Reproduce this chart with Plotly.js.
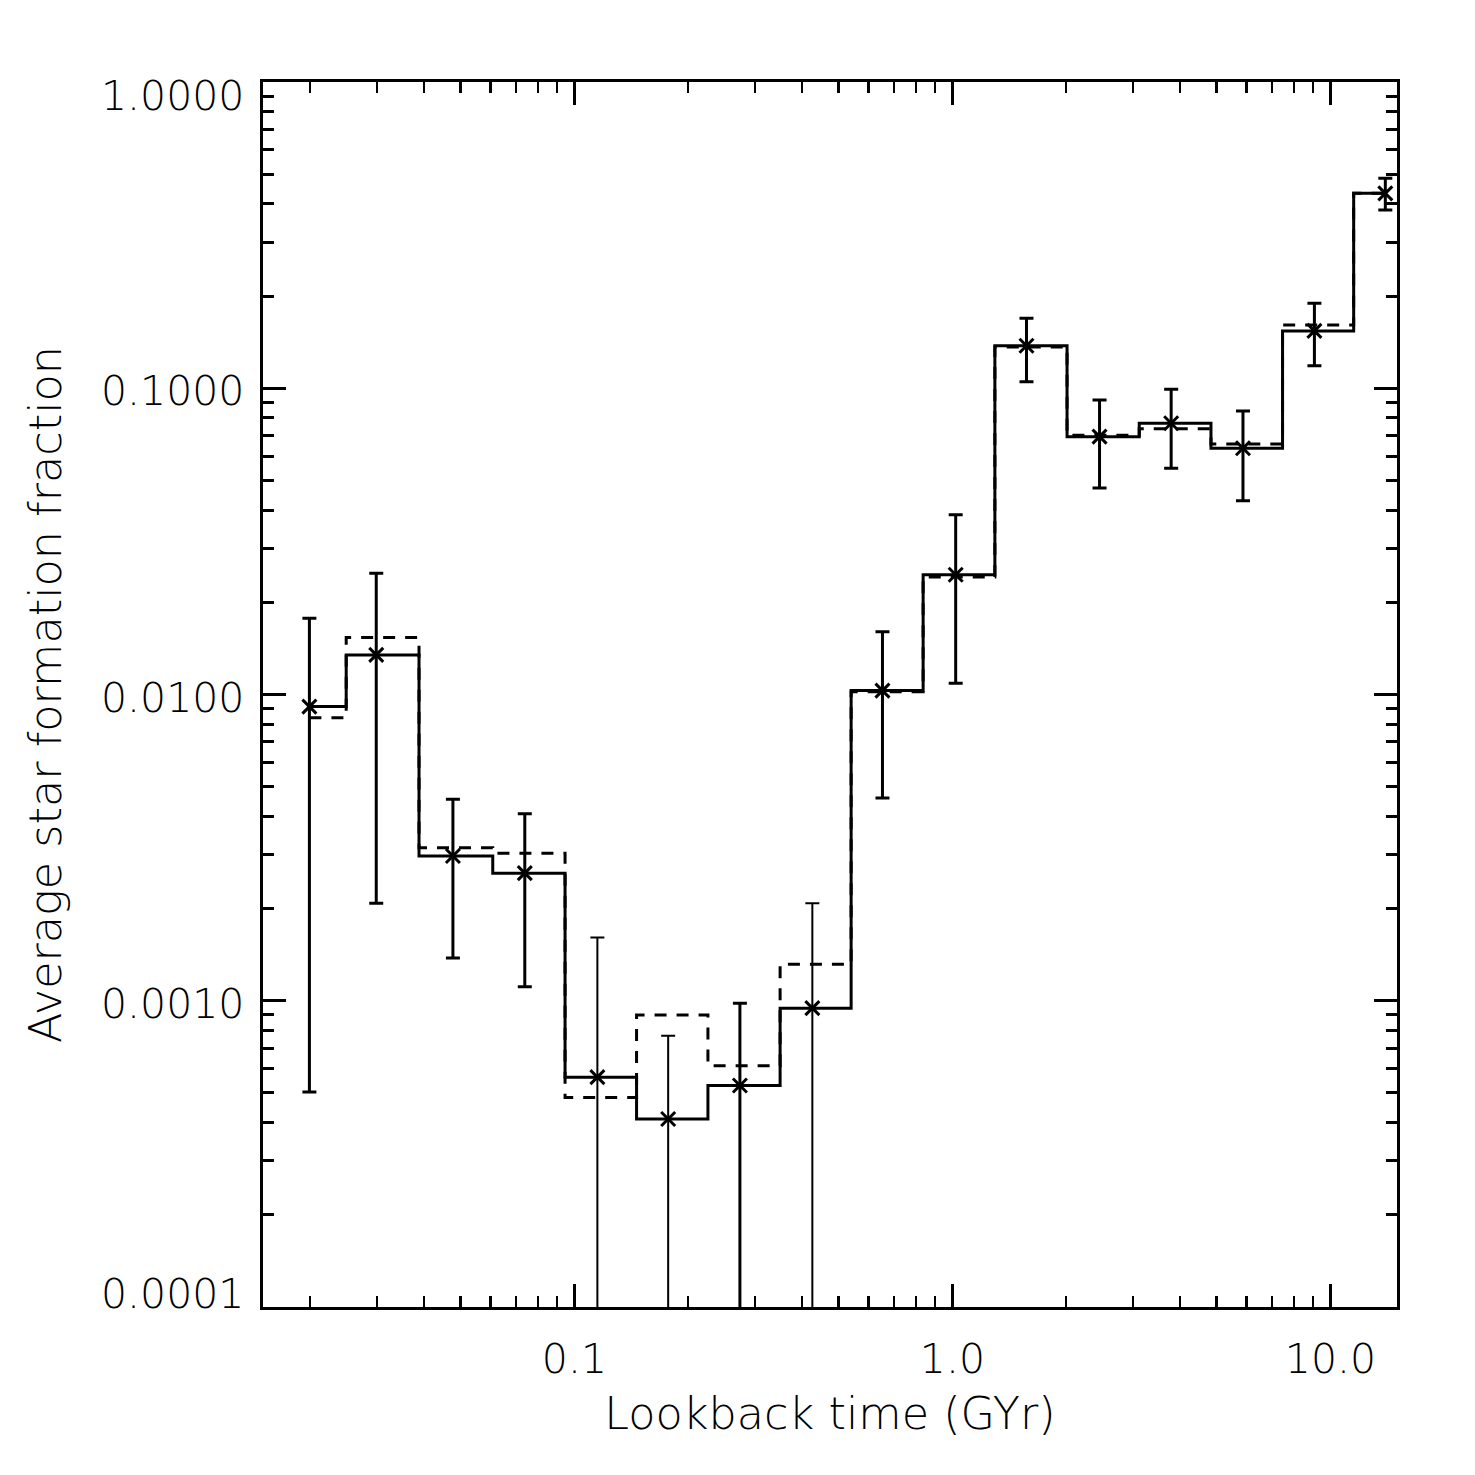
<!DOCTYPE html>
<html><head><meta charset="utf-8">
<script src="https://cdn.plot.ly/plotly-3.0.1.min.js"></script>
<style>html,body{margin:0;padding:0;background:#fff}</style>
</head><body><div id="chart" style="width:1475px;height:1475px"></div>
<script>
// ---- data ----
const lookbackTime = [0.0199, 0.0299, 0.0477, 0.0739, 0.115, 0.177, 0.274, 0.426, 0.653, 1.02, 1.57, 2.45, 3.79, 5.87, 9.07, 13.97];
const sfrSolid  = [0.00913, 0.01347, 0.00297, 0.00261, 0.000563, 0.000411, 0.000529, 0.000946, 0.0103, 0.0246, 0.1377, 0.0695, 0.0769, 0.0637, 0.1539, 0.433];
const sfrDashed = [0.00839, 0.01534, 0.00316, 0.00303, 0.000483, 0.000899, 0.000613, 0.001317, 0.0102, 0.0242, 0.1364, 0.0702, 0.0738, 0.0657, 0.1609, 0.433];
const errUpper  = [0.01775, 0.0249, 0.00455, 0.00408, 0.00161, 0.000768, 0.000982, 0.00208, 0.01604, 0.0386, 0.1693, 0.0916, 0.0993, 0.0843, 0.1894, 0.485];
const errLower  = [0.000504, 0.00208, 0.00138, 0.00111, 0.00001, 0.00001, 0.00001, 0.00001, 0.00459, 0.01088, 0.1051, 0.0472, 0.0548, 0.0429, 0.1185, 0.382];
const thinErrorBins = [4, 5, 7];
const xTickValues = [0.1, 1, 10];
const xTickLabels = ['0.1', '1.0', '10.0'];
const yTickValues = [0.0001, 0.001, 0.01, 0.1, 1];
const yTickLabels = ['0.0001', '0.0010', '0.0100', '0.1000', '1.0000'];
const xTitle = 'Lookback time (GYr)';
const yTitle = 'Average star formation fraction';
const xRange = [0.015, 15];
const yRange = [0.0001, 1];

// ---- helpers ----
function histSteps(x, y) {
  // IDL psym=10 style: steps at linear midpoints, first/last half bins
  const xs = [x[0]], ys = [y[0]];
  for (let i = 0; i < x.length - 1; i++) {
    const m = (x[i] + x[i + 1]) / 2;
    xs.push(m, m); ys.push(y[i], y[i + 1]);
  }
  xs.push(x[x.length - 1]); ys.push(y[y.length - 1]);
  return {x: xs, y: ys};
}
function minorLogTicks(lo, hi) {
  const out = [];
  for (let k = Math.floor(Math.log10(lo)); k <= Math.ceil(Math.log10(hi)); k++) {
    for (let m = 2; m <= 9; m++) {
      const v = m * Math.pow(10, k);
      if (v > lo && v < hi) out.push(v);
    }
  }
  return out;
}
function pick(arr, idx) { return idx.map(i => arr[i]); }

const allIdx = lookbackTime.map((_, i) => i);
const thickIdx = allIdx.filter(i => thinErrorBins.indexOf(i) < 0);
const thinIdx = allIdx.filter(i => thinErrorBins.indexOf(i) >= 0);

const solid = histSteps(lookbackTime, sfrSolid);
const dashed = histSteps(lookbackTime, sfrDashed);

function pointTrace(idx, thick) {
  const y = pick(sfrSolid, idx);
  return {
    x: pick(lookbackTime, idx), y: y, type: 'scatter', mode: 'markers',
    marker: {symbol: 'x-thin', size: 14, color: '#000', line: {width: 3, color: '#000'}},
    error_y: {
      type: 'data', symmetric: false,
      array: idx.map((i, k) => errUpper[i] - y[k]),
      arrayminus: idx.map((i, k) => y[k] - errLower[i]),
      color: '#000', thickness: thick, width: 7
    },
    hoverinfo: 'skip'
  };
}

const traces = [
  {x: dashed.x, y: dashed.y, type: 'scatter', mode: 'lines', line: {color: '#000', width: 3, dash: '12px,10px'}, hoverinfo: 'skip'},
  {x: solid.x, y: solid.y, type: 'scatter', mode: 'lines', line: {color: '#000', width: 3}, hoverinfo: 'skip'},
  pointTrace(thickIdx, 3),
  pointTrace(thinIdx, 2)
];

const FONT = 'DejaVu Sans';
const annotations = yTickValues.map((v, i) => ({
  xref: 'paper', yref: 'y', x: 0, y: Math.log10(v),
  xanchor: 'right', yanchor: 'middle', xshift: -17,
  yshift: i === yTickValues.length - 1 ? -14 : (i === 0 ? 13 : -3),
  text: yTickLabels[i], showarrow: false,
  font: {family: FONT, size: 41, color: '#000', weight: 200}
}));

const axisCommon = {
  type: 'log', ticks: 'inside', ticklen: 23, tickcolor: '#000',
  showline: true, linewidth: 3, linecolor: '#000', mirror: 'allticks',
  showgrid: false, zeroline: false
};

const layout = {
  width: 1475, height: 1475,
  margin: {l: 263, r: 78, t: 82, b: 168},
  paper_bgcolor: '#fff', plot_bgcolor: '#fff',
  showlegend: false,
  xaxis: Object.assign({}, axisCommon, {
    range: xRange.map(Math.log10),
    tickmode: 'array', tickvals: xTickValues, ticktext: xTickLabels, tickwidth: 2.5,
    minor: {tickmode: 'array', tickvals: minorLogTicks(xRange[0], xRange[1]), ticks: 'inside', ticklen: 11, tickwidth: 2.5, tickcolor: '#000', showgrid: false},
    tickfont: {family: FONT, size: 41, color: '#000', weight: 200},
    ticklabelstandoff: 14,
    title: {text: xTitle, font: {family: FONT, size: 44.5, color: '#000', weight: 200}, standoff: 16}
  }),
  yaxis: Object.assign({}, axisCommon, {
    range: yRange.map(Math.log10),
    tickmode: 'array', tickvals: yTickValues, ticktext: yTickLabels, tickwidth: 3,
    showticklabels: false,
    minor: {tickmode: 'array', tickvals: minorLogTicks(yRange[0], yRange[1]), ticks: 'inside', ticklen: 11, tickwidth: 3, tickcolor: '#000', showgrid: false},
    title: {text: yTitle, font: {family: FONT, size: 44.5, color: '#000', weight: 200}, standoff: 185}
  }),
  annotations: annotations
};

Plotly.newPlot('chart', traces, layout, {staticPlot: true, displayModeBar: false});
</script>
</body></html>
